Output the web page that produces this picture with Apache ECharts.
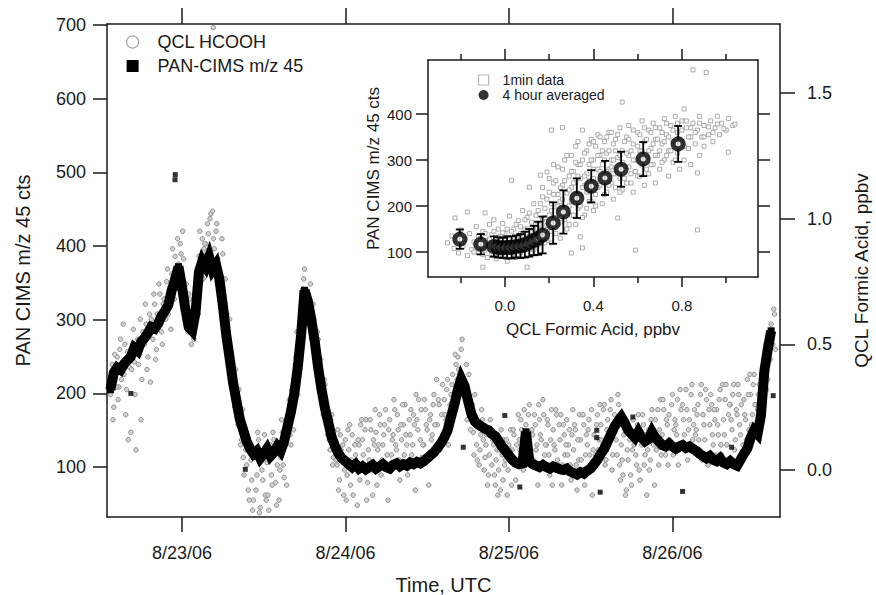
<!DOCTYPE html>
<html><head><meta charset="utf-8">
<script src="https://cdn.jsdelivr.net/npm/echarts@6/dist/echarts.min.js"></script>
<style>html,body{margin:0;padding:0;background:#fff}#c{width:876px;height:595px}</style>
</head><body><div id="c"></div>
<script>
// ---------- tick / label data ----------
const dateTicks = [0, 24, 48, 72];                 // hours since 8/23/06 00:00 UTC
const dateLabels = ['8/23/06', '8/24/06', '8/25/06', '8/26/06'];
const leftTicks = [100, 200, 300, 400, 500, 600, 700];
const rightTicks = [0, 0.5, 1.0, 1.5];
const insetXTicks = [0, 0.4, 0.8];
const insetXMinor = [-0.2, 0.2, 0.6, 1.0];
const insetYTicks = [100, 200, 300, 400];

// ---------- PAN-CIMS m/z 45 (cts) : [hour, value] ----------
const panCims = [[-10.5,205],[-10,228],[-9.5,235],[-9,232],[-8.5,240],[-8,245],[-7.5,250],[-7,262],[-6.5,258],[-6,270],[-5.5,275],[-5,282],[-4.5,290],[-4,288],[-3.5,295],[-3,305],[-2.5,312],[-2,320],[-1.5,340],[-1,355],[-0.5,372],[0,345],[0.5,315],[1,290],[1.5,285],[2,310],[2.5,365],[3,380],[3.5,372],[4,385],[4.5,368],[5,375],[5.5,355],[6,320],[6.5,280],[7,248],[7.5,215],[8,190],[8.5,165],[9,150],[9.5,135],[10,125],[10.5,118],[11,122],[11.5,112],[12,118],[12.5,125],[13,115],[13.5,120],[14,128],[14.5,122],[15,135],[15.5,155],[16,175],[16.5,200],[17,235],[17.5,280],[18,340],[18.5,325],[19,300],[19.5,270],[20,235],[20.5,205],[21,180],[21.5,160],[22,140],[22.5,128],[23,118],[23.5,112],[24,108],[24.5,104],[25,100],[25.5,104],[26,98],[26.5,101],[27,97],[27.5,100],[28,103],[28.5,98],[29,101],[29.5,104],[30,100],[30.5,98],[31,103],[31.5,105],[32,101],[32.5,104],[33,102],[33.5,106],[34,104],[34.5,107],[35,105],[35.5,108],[36,112],[36.5,116],[37,120],[37.5,126],[38,132],[38.5,140],[39,150],[39.5,168],[40,185],[40.5,205],[41,220],[41.5,210],[42,190],[42.5,172],[43,162],[43.5,158],[44,155],[44.5,152],[45,150],[45.5,145],[46,142],[46.5,135],[47,128],[47.5,122],[48,116],[48.5,110],[49,106],[49.5,104],[50,105],[50.5,148],[51,108],[51.5,104],[52,102],[52.5,100],[53,103],[53.5,100],[54,98],[54.5,101],[55,99],[55.5,97],[56,96],[56.5,98],[57,94],[57.5,92],[58,90],[58.5,93],[59,91],[59.5,95],[60,98],[60.5,104],[61,110],[61.5,118],[62,125],[62.5,135],[63,145],[63.5,155],[64,162],[64.5,168],[65,160],[65.5,150],[66,145],[66.5,140],[67,148],[67.5,140],[68,135],[68.5,138],[69,148],[69.5,140],[70,135],[70.5,130],[71,128],[71.5,132],[72,128],[72.5,125],[73,128],[73.5,130],[74,126],[74.5,128],[75,125],[75.5,122],[76,118],[76.5,115],[77,112],[77.5,115],[78,110],[78.5,108],[79,112],[79.5,106],[80,104],[80.5,108],[81,104],[81.5,102],[82,110],[82.5,118],[83,125],[83.5,140],[84,150],[84.5,145],[85,170],[85.5,230],[86,260],[86.5,285]];
const panOutliers = [[-1.02,490],[-0.98,497],[-7.5,200],[9.3,97],[41.3,127],[47.4,170],[49.6,73],[60.9,150],[60.9,140],[61.4,66],[66.2,168],[73.5,67],[80.7,127],[86.8,197]];

// ---------- QCL HCOOH (ppbv): rows [hour start, samples at +0, +0.25, +0.5, +0.75 h] ----------
const qclRowsA = [
[-10.5,0.30,0.42,0.25,0.38],[-9.5,0.45,0.33,0.52,0.40],[-8.5,0.38,0.22,0.47,0.41],[-7.5,0.15,0.50,0.43,0.08],
[-6.5,0.52,0.46,0.20,0.55],[-5.5,0.50,0.58,0.45,0.62],[-4.5,0.60,0.52,0.66,0.48],[-3.5,0.62,0.70,0.55,0.66],
[-2.5,0.68,0.75,0.62,0.72],[-1.5,0.78,0.70,0.85,0.76],[-0.5,0.82,0.90,0.75,0.84],[0.5,0.66,0.58,0.70,0.62],
[1.5,0.60,0.52,0.68,0.72],[2.5,0.85,0.78,0.92,0.88],[3.5,0.90,0.98,0.82,1.02],[4.5,1.03,0.88,0.95,0.84],
[5.5,0.80,0.72,0.86,0.66],[6.5,0.55,0.46,0.60,0.40],[7.5,0.35,0.25,0.30,0.18],[8.5,0.20,0.12,0.05,0.16],
[9.5,0.02,-0.08,0.10,-0.04],[10.5,-0.12,0.05,-0.02,0.12],[11.5,-0.15,0.00,0.08,-0.10],[12.5,0.03,-0.16,0.10,-0.06],
[13.5,0.12,-0.05,0.02,-0.12],[14.5,0.05,0.15,-0.03,0.10],[15.5,0.18,0.28,0.10,0.25],[16.5,0.35,0.45,0.30,0.50],
[17.5,0.62,0.72,0.80,0.68],[18.5,0.70,0.62,0.56,0.66],[19.5,0.48,0.40,0.52,0.35],[20.5,0.30,0.22,0.34,0.18],
[21.5,0.16,0.08,0.22,0.05],[22.5,0.10,0.02,-0.08,0.14],[23.5,0.05,-0.10,0.12,-0.02],[24.5,0.08,-0.06,0.14,0.02],
[25.5,0.06,-0.14,0.10,0.18],[26.5,0.12,0.00,0.20,-0.05],[27.5,0.04,0.16,-0.10,0.10],[28.5,0.15,0.08,0.22,-0.02],
[29.5,0.10,0.18,0.02,-0.12],[30.5,0.20,0.06,0.14,0.24],[31.5,0.08,0.16,-0.04,0.12],[32.5,0.18,0.26,0.10,0.02],
[33.5,0.14,0.06,0.22,-0.08],[34.5,0.20,0.28,0.12,0.05],[35.5,0.10,0.24,0.16,-0.06],[36.5,0.22,0.14,0.30,0.08],
[37.5,0.18,0.26,0.12,0.34],[38.5,0.28,0.20,0.36,0.15],[39.5,0.30,0.38,0.25,0.42],[40.5,0.45,0.38,0.48,0.32],
[41.5,0.35,0.42,0.28,0.24],[42.5,0.22,0.15,0.30,0.10],[43.5,0.18,0.08,0.24,0.12],[44.5,0.05,0.14,-0.02,0.20],
[45.5,0.02,0.10,-0.06,0.08],[46.5,0.00,-0.08,0.06,0.12],[47.5,0.04,-0.10,0.10,0.16],[48.5,0.08,0.14,-0.04,0.02],
[49.5,0.12,0.20,0.05,0.24],[50.5,0.18,0.10,0.26,0.04],[51.5,0.14,0.22,0.08,-0.06],[52.5,0.20,0.12,0.28,0.06],
[53.5,0.10,0.18,-0.02,0.24],[54.5,0.16,0.08,0.22,0.02],[55.5,0.12,-0.06,0.18,0.06],[56.5,0.20,0.10,0.02,0.14],
[57.5,0.08,0.16,-0.08,0.04],[58.5,0.12,0.00,0.18,0.06],[59.5,0.10,0.20,0.02,-0.10],[60.5,0.14,0.06,0.22,0.12],
[61.5,0.18,0.10,0.26,0.04],[62.5,0.20,0.14,0.28,0.06],[63.5,0.22,0.12,0.30,0.02],[64.5,0.10,-0.02,0.18,-0.08],
[65.5,0.04,0.12,-0.06,0.20],[66.5,0.14,0.02,0.22,-0.04],[67.5,0.10,0.18,0.06,-0.10],[68.5,0.16,0.04,0.24,0.10],
[69.5,0.20,0.12,0.02,0.28],[70.5,0.14,0.24,0.06,0.18],[71.5,0.22,0.10,0.30,0.16],[72.5,0.18,0.28,0.08,0.24],
[73.5,0.26,0.14,0.32,0.04],[74.5,0.20,0.30,0.12,0.24],[75.5,0.16,0.26,0.08,0.34],[76.5,0.22,0.12,0.28,0.02],
[77.5,0.18,0.26,0.10,0.20],[78.5,0.24,0.14,0.32,0.06],[79.5,0.20,0.28,0.10,0.22],[80.5,0.26,0.16,0.34,0.12],
[81.5,0.22,0.30,0.14,0.04],[82.5,0.28,0.20,0.36,0.16],[83.5,0.30,0.22,0.38,0.26],[84.5,0.24,0.34,0.18,0.40],
[85.5,0.40,0.50,0.36,0.55],[86.5,0.58,0.50,0.62]
];
// second pass of samples, at +0.125, +0.375, +0.625, +0.875 h
const qclRowsB = [
[-10.5,0.36,0.20,0.46,0.33],[-9.5,0.28,0.48,0.36,0.58],[-8.5,0.50,0.32,0.12,0.44],[-7.5,0.40,0.56,0.30,0.48],
[-6.5,0.42,0.60,0.36,0.50],[-5.5,0.66,0.40,0.54,0.35],[-4.5,0.55,0.70,0.44,0.62],[-3.5,0.74,0.58,0.50,0.68],
[-2.5,0.60,0.80,0.70,0.56],[-1.5,0.88,0.68,0.80,0.92],[-0.5,0.72,0.86,0.95,0.70],[0.5,0.74,0.55,0.68,0.50],
[1.5,0.56,0.64,0.75,0.62],[2.5,0.95,0.82,0.76,0.90],[3.5,0.86,0.94,1.00,0.78],[4.5,0.92,0.80,0.98,0.76],
[5.5,0.70,0.92,0.62,0.76],[6.5,0.62,0.50,0.38,0.44],[7.5,0.28,0.40,0.22,0.32],[8.5,0.10,0.24,-0.02,0.08],
[9.5,0.12,-0.12,0.04,-0.16],[10.5,0.08,-0.08,0.15,-0.17],[11.5,0.05,-0.04,0.14,-0.12],[12.5,-0.10,0.06,-0.02,0.15],
[13.5,0.06,-0.14,0.10,0.00],[14.5,0.20,0.02,0.12,-0.06],[15.5,0.22,0.14,0.32,0.16],[16.5,0.42,0.55,0.38,0.46],
[17.5,0.70,0.76,0.64,0.58],[18.5,0.62,0.74,0.52,0.60],[19.5,0.42,0.55,0.36,0.44],[20.5,0.26,0.36,0.20,0.14],
[21.5,0.12,0.20,0.02,0.10],[22.5,0.04,0.16,-0.04,0.08],[23.5,0.10,0.00,-0.12,0.16],[24.5,0.18,0.04,-0.10,0.10],
[25.5,0.02,0.12,-0.04,0.20],[26.5,0.06,0.16,-0.12,0.08],[27.5,0.20,0.00,0.12,0.24],[28.5,-0.06,0.10,0.18,0.04],
[29.5,0.14,0.24,0.06,0.16],[30.5,0.02,0.12,0.28,0.10],[31.5,0.22,0.04,0.18,0.26],[32.5,0.06,0.14,-0.02,0.20],
[33.5,0.24,0.10,0.18,0.30],[34.5,0.16,0.02,0.24,0.10],[35.5,0.28,0.18,0.06,0.20],[36.5,0.12,0.26,0.18,0.36],
[37.5,0.28,0.08,0.22,0.14],[38.5,0.22,0.32,0.10,0.26],[39.5,0.34,0.22,0.46,0.36],[40.5,0.40,0.30,0.52,0.36],
[41.5,0.30,0.20,0.38,0.16],[42.5,0.26,0.06,0.18,0.04],[43.5,0.02,0.14,0.20,0.00],[44.5,0.10,-0.06,0.06,0.16],
[45.5,0.12,-0.02,0.04,-0.10],[46.5,0.08,0.16,-0.04,0.02],[47.5,0.12,0.00,0.08,-0.06],[48.5,0.16,0.04,0.10,0.22],
[49.5,0.08,0.16,0.00,0.14],[50.5,0.12,0.22,0.06,0.16],[51.5,0.04,0.18,0.10,0.26],[52.5,0.14,0.02,0.22,0.10],
[53.5,0.20,0.06,0.12,-0.06],[54.5,0.10,0.24,0.04,0.18],[55.5,0.22,0.02,0.14,0.10],[56.5,0.06,0.16,-0.04,0.24],
[57.5,0.18,0.02,0.12,0.22],[58.5,0.04,0.22,-0.06,0.14],[59.5,0.16,0.06,0.24,0.08],[60.5,0.02,0.18,0.08,0.26],
[61.5,0.12,0.24,0.02,0.16],[62.5,0.10,0.24,0.00,0.18],[63.5,0.16,0.06,0.26,-0.04],[64.5,0.04,0.14,-0.10,0.08],
[65.5,0.16,-0.02,0.08,0.10],[66.5,0.06,0.18,0.00,0.12],[67.5,0.22,0.02,0.14,0.08],[68.5,0.00,0.20,0.12,-0.06],
[69.5,0.08,0.24,0.16,0.06],[70.5,0.28,0.10,0.20,0.02],[71.5,0.12,0.26,0.06,0.20],[72.5,0.14,0.02,0.32,0.10],
[73.5,0.20,0.10,0.24,0.16],[74.5,0.08,0.34,0.18,0.14],[75.5,0.22,0.12,0.30,0.04],[76.5,0.18,0.32,0.06,0.24],
[77.5,0.30,0.14,0.24,0.06],[78.5,0.18,0.28,0.10,0.34],[79.5,0.14,0.34,0.04,0.26],[80.5,0.20,0.30,0.08,0.24],
[81.5,0.34,0.18,0.26,0.10],[82.5,0.22,0.12,0.30,0.38],[83.5,0.18,0.34,0.26,0.14],[84.5,0.30,0.22,0.38,0.28],
[85.5,0.46,0.32,0.52,0.44],[86.5,0.54,0.64,0.48]
];
const qclExtra = [[4.6,1.76]];

// ---------- inset: 1-min data [QCL ppbv, PAN cts] ----------
const oneMinA = [[-0.26,120],[-0.24,135],[-0.23,108],[-0.226,174],[-0.21,98],[-0.2,148],[-0.19,112],[-0.18,128],[-0.17,187],[-0.17,92],[-0.16,140],[-0.15,105],[-0.14,122],[-0.13,155],[-0.12,98],[-0.12,134],[-0.11,112],[-0.1,67],[-0.1,145],[-0.09,185],[-0.09,104],[-0.08,125],[-0.08,88],[-0.07,160],[-0.07,115],[-0.06,96],[-0.06,138],[-0.05,108],[-0.05,170],[-0.04,85],[-0.04,128],[-0.03,118],[-0.03,150],[-0.02,100],[-0.02,135],[-0.01,92],[-0.01,162],[0.0,112],[0.0,140],[0.01,80],[0.01,125],[0.02,105],[0.02,178],[0.03,256],[0.03,118],[0.04,95],[0.04,150],[0.05,130],[0.05,88],[0.06,110],[0.06,168],[0.07,140],[0.07,98],[0.08,122],[0.08,190],[0.09,105],[0.09,150],[0.1,67],[0.1,132],[0.1,175],[0.11,241],[0.11,115],[0.12,145],[0.12,98],[0.13,205],[0.13,125],
[0.14,160],[0.14,110],[0.15,190],[0.15,135],[0.16,267],[0.16,150],[0.16,118],[0.17,220],[0.17,170],[0.18,138],[0.18,195],[0.19,274],[0.19,158],[0.19,125],[0.2,230],[0.2,180],[0.2,145],[0.21,365],[0.21,205],[0.21,120],[0.22,250],[0.22,168],[0.23,198],[0.23,140],[0.24,285],[0.24,225],[0.24,160],[0.25,210],[0.25,130],[0.26,371],[0.26,245],[0.26,185],[0.27,300],[0.27,170],[0.28,228],[0.28,150],[0.29,265],[0.29,200],[0.3,98],[0.3,310],[0.3,240],[0.3,180],[0.31,275],[0.31,215],[0.32,330],[0.32,250],[0.32,160],[0.33,290],[0.33,195],[0.34,133],[0.34,260],[0.34,225],[0.35,365],[0.35,300],[0.35,109],[0.36,245],[0.36,180],[0.37,320],[0.37,270],[0.38,210],[0.38,290],[0.39,345],[0.39,235],[0.4,300],[0.4,260],[0.4,190],[0.41,330],[0.41,225],[0.42,280],[0.42,355],[0.43,245],[0.43,310],[0.44,205],[0.44,290],[0.45,340],[0.45,265],[0.46,230],[0.46,315],[0.47,360],[0.47,280],[0.48,250],[0.48,300],[0.49,335],[0.49,215],[0.5,270],[0.5,345],[0.51,174],[0.51,305],[0.52,260],[0.52,370],[0.53,426],[0.53,320],[0.53,235],[0.54,285],[0.55,350],[0.55,250],[0.56,310],[0.56,375],[0.57,270],[0.58,335],[0.58,230],[0.59,104],[0.59,300],[0.6,360],[0.6,265],[0.61,320],[0.62,290],[0.62,385],[0.63,245],[0.63,340],[0.64,305],[0.65,365],[0.65,270],[0.66,325],[0.67,290],[0.67,380],[0.68,250],[0.68,345],[0.69,310],[0.7,370],[0.7,280],[0.71,335],[0.72,300],[0.72,390],[0.73,355],[0.74,265],[0.74,320],[0.75,375],[0.76,340],[0.76,295],[0.77,395],[0.78,315],[0.78,360],[0.79,280],[0.8,340],[0.8,385],[0.81,300],[0.81,411],[0.82,370],[0.83,325],[0.84,350],[0.84,290],[0.85,496],[0.85,380],[0.86,335],[0.87,148],[0.87,272],[0.87,365],[0.88,310],[0.88,395],[0.89,350],[0.9,375],[0.9,330],[0.91,490],[0.92,355],[0.93,385],[0.94,340],[0.95,370],[0.96,395],[0.97,355],[0.98,380],[1.0,365],[1.01,317],[1.01,390],[1.03,375],[1.04,378]];
const oneMinB = [[-0.14,100],[-0.13,118],[-0.11,130],[-0.1,95],[-0.09,140],[-0.08,108],[-0.07,128],[-0.06,115],[-0.05,92],[-0.05,145],[-0.04,110],[-0.03,98],[-0.03,132],[-0.02,120],[-0.01,105],[-0.01,142],[0,95],[0,125],[0.01,115],[0.01,150],[0.02,92],[0.02,130],[0.03,108],[0.03,145],[0.04,120],[0.04,100],[0.05,160],[0.05,112],[0.06,95],[0.06,135],[0.07,120],[0.07,155],[0.08,105],[0.08,140],[0.09,128],[0.09,170],[0.1,110],[0.1,150],[0.11,135],[0.11,185],[0.12,120],[0.12,165],[0.13,150],[0.13,105],[0.14,180],[0.14,130],[0.15,160],[0.15,115],
[0.16,205],[0.17,145],[0.17,240],[0.18,175],[0.18,120],[0.19,215],[0.2,160],[0.2,260],[0.21,190],[0.21,145],[0.22,225],[0.22,290],[0.23,175],[0.23,255],[0.24,200],[0.25,240],[0.25,165],[0.26,280],[0.26,215],[0.27,195],[0.27,255],[0.28,310],[0.28,185],[0.29,235],[0.29,160],[0.3,275],[0.3,210],[0.31,250],[0.31,180],[0.32,295],[0.32,225],[0.33,265],[0.33,340],[0.34,200],[0.34,290],[0.35,240],[0.35,175],[0.36,315],[0.36,265],[0.37,230],[0.37,195],[0.38,335],[0.38,255],[0.39,300],[0.39,210],[0.4,280],[0.4,340],[0.41,250],[0.41,200],[0.42,310],[0.42,240],[0.43,350],[0.43,275],[0.44,320],[0.44,260],[0.45,225],[0.45,300],[0.46,350],[0.46,275],[0.47,245],[0.47,320],[0.48,285],[0.48,360],[0.49,270],[0.49,300],[0.5,240],[0.5,320],[0.51,355],[0.51,280],[0.52,310],[0.52,230],[0.53,295],[0.54,340],[0.54,260],[0.55,315],[0.56,285],[0.56,345],[0.57,320],[0.57,250],[0.58,300],[0.58,365],[0.59,275],[0.6,330],[0.6,300],[0.61,355],[0.61,265],[0.62,320],[0.63,300],[0.63,370],[0.64,280],[0.64,345],[0.65,320],[0.66,360],[0.66,290],[0.67,335],[0.68,370],[0.68,310],[0.69,345],[0.7,320],[0.71,360],[0.71,295],[0.72,340],[0.73,310],[0.73,380],[0.74,350],[0.75,320],[0.76,365],[0.77,335],[0.77,300],[0.78,380],[0.79,345],[0.8,365],[0.81,330],[0.82,385],[0.83,350],[0.84,370],[0.86,360],[0.88,380],[0.9,350],[0.92,372],[0.94,360],[0.96,378],[0.99,368]];

// ---------- inset: 4-hour averages [QCL ppbv, PAN cts] and +/- error ----------
const avg4h = [[-0.204,128],[-0.109,117],[-0.05,112],[-0.03,110],[-0.01,109],[0.01,110],[0.03,110],[0.05,112],[0.07,113],[0.09,116],[0.11,120],[0.13,125],[0.15,130],[0.17,137],[0.218,163],[0.264,187],[0.325,217],[0.39,243],[0.452,261],[0.525,280],[0.625,302],[0.783,335]];
const avg4hErr = [21,22,22,22,22,24,24,24,26,28,30,32,36,40,45,47,43,35,37,38,37,39];

// ---------- build ----------
const qclPoints = [];
qclRowsA.forEach(r => { for (let i = 1; i < r.length; i++) qclPoints.push([r[0] + (i - 1) * 0.25, r[i]]); });
qclRowsB.forEach(r => { for (let i = 1; i < r.length; i++) qclPoints.push([r[0] + 0.125 + (i - 1) * 0.25, r[i]]); });
qclExtra.forEach(p => qclPoints.push(p));
const oneMin = oneMinA.concat(oneMinB);
const avgErrData = avg4h.map((p, i) => [p[0], p[1], avg4hErr[i]]);

const FONT = "'Liberation Sans', Arial, Helvetica, sans-serif";
const INK = '#1a1a1a';
const AL = { show: true, onZero: false, lineStyle: { color: INK, width: 1.5 } };
const tick = (vals, len) => ({ show: true, inside: false, length: len, customValues: vals, lineStyle: { color: INK, width: 1.5 } });
const noLabel = { show: false };
const lbl = (vals, margin, size, fmt) => ({ show: true, customValues: vals, margin: margin, fontSize: size, color: INK, fontFamily: FONT, formatter: fmt });

const MX = [-11, 87.8], LY = [32.3, 701.4], RY = [-0.187, 1.7745], IX = [-0.348, 1.144], IY = [45.7, 517.4];

const option = {
  animation: false,
  backgroundColor: '#fff',
  grid: [
    { left: 107, top: 24, width: 673, height: 493, outerBoundsMode: 'none', containLabel: false },
    { left: 428, top: 60, width: 330, height: 217, outerBoundsMode: 'none', containLabel: false },
    { left: 428, top: 60, width: 330, height: 217, outerBoundsMode: 'none', containLabel: false }
  ],
  xAxis: [
    { gridIndex: 0, type: 'value', position: 'bottom', min: MX[0], max: MX[1], axisLine: AL, axisTick: tick(dateTicks, 15),
      axisLabel: lbl(dateTicks, 27, 18, v => dateLabels[dateTicks.indexOf(v)]), splitLine: { show: false },
      name: 'Time, UTC', nameLocation: 'middle', nameGap: 58, nameTextStyle: { fontSize: 20, color: INK, fontFamily: FONT } },
    { gridIndex: 0, type: 'value', position: 'top', min: MX[0], max: MX[1], axisLine: AL, axisTick: tick(dateTicks, 16), axisLabel: noLabel, splitLine: { show: false } },
    { gridIndex: 1, type: 'value', position: 'bottom', min: IX[0], max: IX[1], axisLine: AL, axisTick: tick(insetXTicks, 10),
      axisLabel: lbl(insetXTicks, 21, 15, v => v.toFixed(1)), splitLine: { show: false },
      name: 'QCL Formic Acid, ppbv', nameLocation: 'middle', nameGap: 44, nameTextStyle: { fontSize: 17, color: INK, fontFamily: FONT } },
    { gridIndex: 1, type: 'value', position: 'top', min: IX[0], max: IX[1], axisLine: AL, axisTick: tick(insetXTicks, 11), axisLabel: noLabel, splitLine: { show: false } },
    { gridIndex: 2, type: 'value', position: 'bottom', min: IX[0], max: IX[1], axisLine: { show: false, onZero: false }, axisTick: tick(insetXMinor, 6), axisLabel: noLabel, splitLine: { show: false } },
    { gridIndex: 2, type: 'value', position: 'top', min: IX[0], max: IX[1], axisLine: { show: false, onZero: false }, axisTick: tick(insetXMinor, 6), axisLabel: noLabel, splitLine: { show: false } }
  ],
  yAxis: [
    { gridIndex: 0, type: 'value', position: 'left', min: LY[0], max: LY[1], axisLine: AL, axisTick: tick(leftTicks, 14),
      axisLabel: lbl(leftTicks, 21, 18, v => String(v)), splitLine: { show: false },
      name: 'PAN CIMS m/z 45 cts', nameLocation: 'middle', nameGap: 74, nameRotate: 90, nameTextStyle: { fontSize: 20, color: INK, fontFamily: FONT } },
    { gridIndex: 0, type: 'value', position: 'right', min: RY[0], max: RY[1], axisLine: AL, axisTick: tick(rightTicks, 15),
      axisLabel: lbl(rightTicks, 27, 18, v => v.toFixed(1)), splitLine: { show: false },
      name: 'QCL Formic Acid, ppbv', nameLocation: 'middle', nameGap: 72, nameRotate: 90, nameTextStyle: { fontSize: 19, color: INK, fontFamily: FONT } },
    { gridIndex: 1, type: 'value', position: 'left', min: IY[0], max: IY[1], axisLine: AL, axisTick: tick(insetYTicks, 12),
      axisLabel: lbl(insetYTicks, 16, 15, v => String(v)), splitLine: { show: false },
      name: 'PAN CIMS m/z 45 cts', nameLocation: 'middle', nameGap: 46, nameRotate: 90, nameTextStyle: { fontSize: 17, color: INK, fontFamily: FONT } },
    { gridIndex: 1, type: 'value', position: 'right', min: IY[0], max: IY[1], axisLine: AL, axisTick: tick(insetYTicks, 12), axisLabel: noLabel, splitLine: { show: false } },
    { gridIndex: 2, type: 'value', min: IY[0], max: IY[1], show: false }
  ],
  legend: [
    { orient: 'vertical', left: 126, top: 33, padding: 0, itemWidth: 12, itemHeight: 12, itemGap: 6, selectedMode: false,
      textStyle: { fontSize: 18, color: INK, fontFamily: FONT, padding: [0, 0, 0, 14] },
      data: [
        { name: 'QCL HCOOH', icon: 'circle', itemStyle: { color: '#fff', borderColor: '#a8a8a8', borderWidth: 1.2 } },
        { name: 'PAN-CIMS m/z 45', icon: 'rect', itemStyle: { color: '#000', borderWidth: 0 } }
      ] },
    { orient: 'vertical', left: 478, top: 73, padding: 0, itemWidth: 10, itemHeight: 10, itemGap: 1, selectedMode: false,
      textStyle: { fontSize: 14, color: INK, fontFamily: FONT, padding: [0, 0, 0, 9] },
      data: [
        { name: '1min data', icon: 'rect', itemStyle: { color: '#fff', borderColor: '#a8a8a8', borderWidth: 1.2 } },
        { name: '4 hour averaged', icon: 'circle', itemStyle: { color: '#000', borderColor: '#000', borderWidth: 0 } }
      ] }
  ],
  series: [
    { name: 'QCL HCOOH', type: 'scatter', xAxisIndex: 0, yAxisIndex: 1, data: qclPoints, symbol: 'circle', symbolSize: 4.5,
      itemStyle: { color: '#d2d2d2', borderColor: '#8f8f8f', borderWidth: 1, opacity: 1 }, z: 2 },
    { name: 'PAN-CIMS m/z 45', type: 'line', xAxisIndex: 0, yAxisIndex: 0, data: panCims, symbol: 'rect', symbolSize: 7, showSymbol: true,
      lineStyle: { color: '#000', width: 10, join: 'miter' }, itemStyle: { color: '#000' }, z: 3 },
    { name: 'PAN-CIMS m/z 45', type: 'scatter', xAxisIndex: 0, yAxisIndex: 0, data: panOutliers, symbol: 'rect', symbolSize: 5,
      itemStyle: { color: '#000' }, z: 3 },
    { name: '1min data', type: 'scatter', xAxisIndex: 2, yAxisIndex: 2, data: oneMin, symbol: 'rect', symbolSize: 4,
      itemStyle: { color: '#fff', borderColor: '#999', borderWidth: 1 }, z: 2 },
    { name: 'errbars', type: 'custom', xAxisIndex: 2, yAxisIndex: 2, data: avgErrData, encode: { x: 0, y: 1 }, z: 3,
      renderItem: function (params, api) {
        const x = api.value(0), y = api.value(1), e = api.value(2);
        const t = api.coord([x, y + e]), b = api.coord([x, y - e]);
        const hw = 4, st = { stroke: '#000', lineWidth: 1.8 };
        return { type: 'group', children: [
          { type: 'line', shape: { x1: t[0], y1: t[1], x2: b[0], y2: b[1] }, style: st },
          { type: 'line', shape: { x1: t[0] - hw, y1: t[1], x2: t[0] + hw, y2: t[1] }, style: st },
          { type: 'line', shape: { x1: b[0] - hw, y1: b[1], x2: b[0] + hw, y2: b[1] }, style: st }
        ] };
      } },
    { name: '4 hour averaged', type: 'scatter', xAxisIndex: 2, yAxisIndex: 2, data: avg4h, symbol: 'circle', symbolSize: 10,
      itemStyle: { color: '#fff', borderColor: '#000', borderWidth: 5 }, z: 4 }
  ]
};

const chart = echarts.init(document.getElementById('c'), null, { renderer: 'svg', width: 876, height: 595 });
chart.setOption(option);
</script>
</body></html>
